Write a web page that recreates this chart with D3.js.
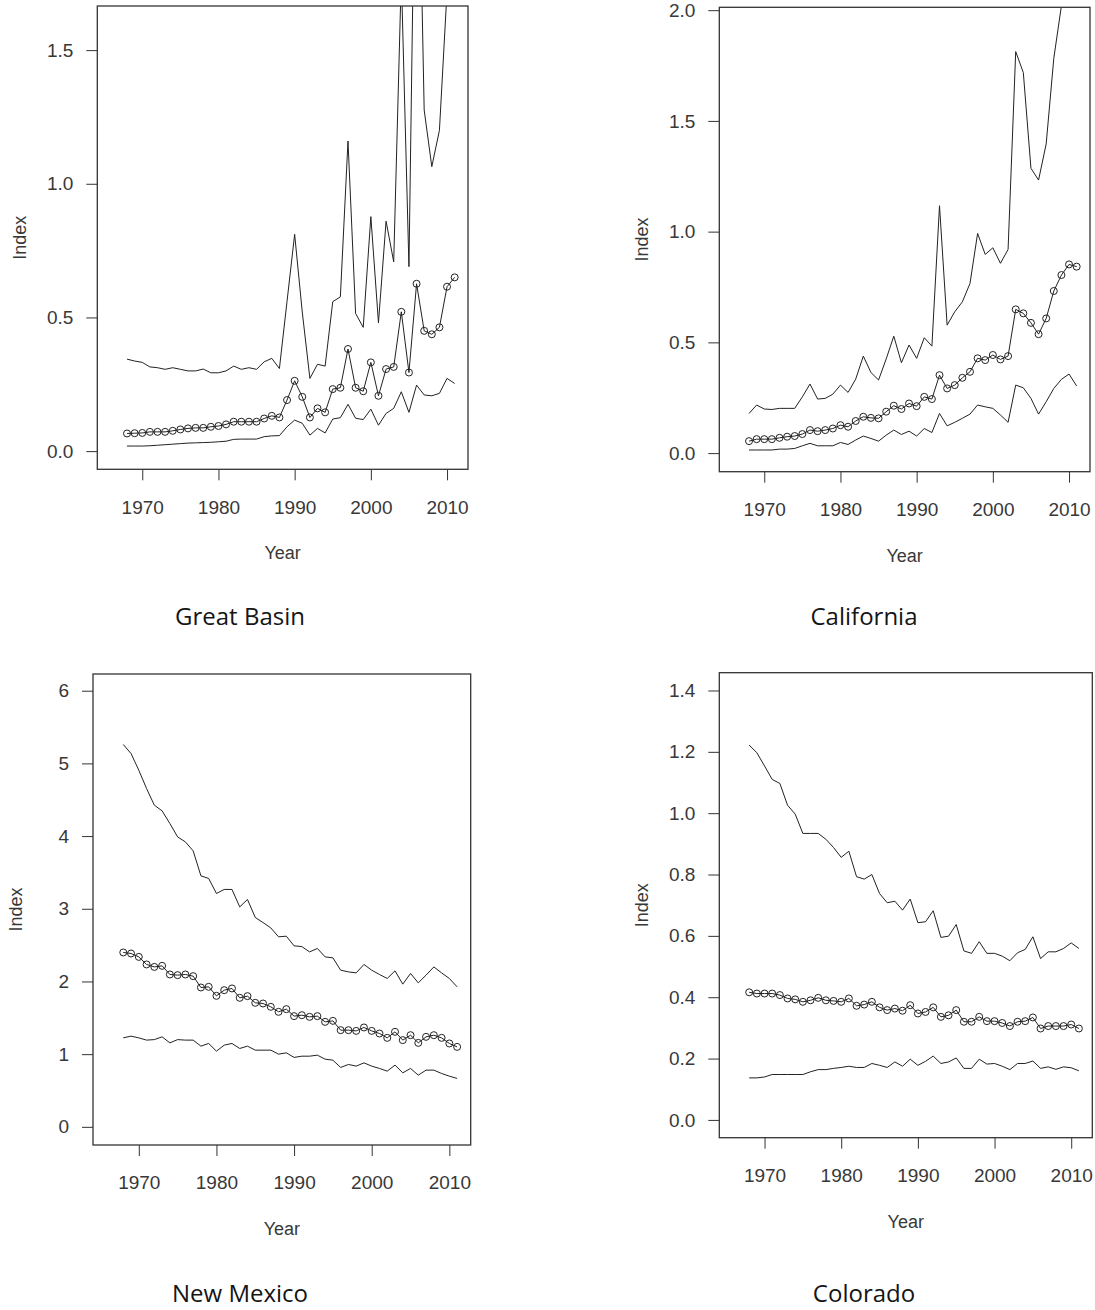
<!DOCTYPE html>
<html>
<head>
<meta charset="utf-8">
<script src="https://cdn.jsdelivr.net/npm/d3@7/dist/d3.min.js"></script>
<style>
    body { margin: 0; background: #fff; }
    svg { display: block; }
    .tick-label { font-family: "Liberation Sans", Arial, sans-serif; font-size: 19px; fill: #383838; }
    .axis-title { font-family: "Liberation Sans", Arial, sans-serif; font-size: 18px; fill: #383838; }
    .panel-title { font-family: "Open Sans", "Noto Sans", sans-serif; font-size: 24px; fill: #151515; }
</style>
</head>
<body>
<div class="chart"></div>
<script>
/*global d3*/

const years = [1968, 1969, 1970, 1971, 1972, 1973, 1974, 1975, 1976, 1977,
               1978, 1979, 1980, 1981, 1982, 1983, 1984, 1985, 1986, 1987,
               1988, 1989, 1990, 1991, 1992, 1993, 1994, 1995, 1996, 1997,
               1998, 1999, 2000, 2001, 2002, 2003, 2004, 2005, 2006, 2007,
               2008, 2009, 2010, 2011];

const xTicks = [1970, 1980, 1990, 2000, 2010];

// Great Basin
const gbUpper = [0.344, 0.337, 0.332, 0.315, 0.312, 0.306, 0.312, 0.306, 0.300, 0.300,
                 0.307, 0.293, 0.293, 0.300, 0.318, 0.306, 0.312, 0.306, 0.334, 0.347,
                 0.309, 0.56, 0.811, 0.52, 0.272, 0.325, 0.318, 0.559, 0.577, 1.16,
                 0.515, 0.463, 0.877, 0.48, 0.86, 0.708, 1.78, 0.69, 2.7, 1.276,
                 1.064, 1.20, 1.72, 1.9];
const gbMid = [0.066, 0.067, 0.068, 0.072, 0.072, 0.072, 0.076, 0.081, 0.085, 0.087,
               0.087, 0.091, 0.094, 0.100, 0.110, 0.110, 0.110, 0.110, 0.122, 0.132,
               0.126, 0.191, 0.263, 0.203, 0.126, 0.160, 0.145, 0.232, 0.237, 0.382,
               0.237, 0.224, 0.332, 0.207, 0.307, 0.315, 0.521, 0.294, 0.626, 0.450,
               0.437, 0.463, 0.615, 0.650];
const gbLower = [0.019, 0.019, 0.019, 0.020, 0.022, 0.024, 0.026, 0.028, 0.030, 0.031,
                 0.032, 0.033, 0.035, 0.037, 0.044, 0.045, 0.045, 0.045, 0.054, 0.057,
                 0.058, 0.091, 0.116, 0.104, 0.060, 0.085, 0.068, 0.120, 0.125, 0.175,
                 0.123, 0.118, 0.157, 0.097, 0.141, 0.160, 0.222, 0.145, 0.247, 0.210,
                 0.207, 0.216, 0.272, 0.253];
const gbTicks = [0, 0.5, 1.0, 1.5];

// California
const caUpper = [0.179, 0.217, 0.199, 0.197, 0.202, 0.202, 0.202, 0.254, 0.312, 0.244,
                 0.247, 0.266, 0.307, 0.274, 0.334, 0.438, 0.364, 0.330, 0.425, 0.528,
                 0.408, 0.488, 0.428, 0.521, 0.483, 1.117, 0.578, 0.638, 0.683, 0.766,
                 0.992, 0.897, 0.927, 0.857, 0.920, 1.813, 1.718, 1.286, 1.233, 1.396,
                 1.783, 2.02, 2.25, 2.15];
const caMid = [0.054, 0.063, 0.063, 0.063, 0.069, 0.074, 0.077, 0.086, 0.104, 0.099,
               0.104, 0.111, 0.126, 0.119, 0.145, 0.164, 0.159, 0.157, 0.187, 0.214,
               0.199, 0.224, 0.212, 0.254, 0.244, 0.352, 0.292, 0.307, 0.340, 0.367,
               0.428, 0.420, 0.443, 0.423, 0.438, 0.649, 0.631, 0.588, 0.537, 0.608,
               0.732, 0.804, 0.852, 0.842];
const caLower = [0.014, 0.014, 0.014, 0.014, 0.018, 0.018, 0.021, 0.033, 0.044, 0.033,
                 0.033, 0.033, 0.048, 0.039, 0.059, 0.077, 0.066, 0.054, 0.081, 0.104,
                 0.084, 0.099, 0.077, 0.111, 0.093, 0.179, 0.123, 0.139, 0.157, 0.176,
                 0.217, 0.209, 0.202, 0.172, 0.139, 0.307, 0.295, 0.247, 0.176, 0.232,
                 0.292, 0.333, 0.357, 0.303];
const caTicks = [0, 0.5, 1.0, 1.5, 2.0];

// New Mexico
const nmUpper = [5.26, 5.136, 4.906, 4.654, 4.425, 4.347, 4.173, 3.989, 3.92, 3.797,
                 3.453, 3.417, 3.21, 3.266, 3.266, 3.026, 3.128, 2.88, 2.81, 2.737,
                 2.614, 2.623, 2.49, 2.48, 2.407, 2.454, 2.338, 2.325, 2.155, 2.132,
                 2.118, 2.234, 2.155, 2.096, 2.041, 2.146, 1.963, 2.11, 1.981, 2.087,
                 2.2, 2.118, 2.041, 1.926];
const nmMid = [2.399, 2.385, 2.338, 2.234, 2.2, 2.215, 2.096, 2.087, 2.096, 2.073,
               1.917, 1.926, 1.802, 1.88, 1.904, 1.775, 1.798, 1.706, 1.697, 1.651,
               1.582, 1.619, 1.523, 1.536, 1.513, 1.523, 1.444, 1.458, 1.33, 1.33,
               1.32, 1.367, 1.32, 1.284, 1.224, 1.307, 1.193, 1.261, 1.155, 1.238,
               1.261, 1.224, 1.147, 1.1];
const nmLower = [1.224, 1.248, 1.224, 1.193, 1.2, 1.238, 1.155, 1.2, 1.193, 1.193,
                 1.11, 1.147, 1.041, 1.124, 1.147, 1.078, 1.11, 1.055, 1.055, 1.055,
                 1.0, 1.018, 0.955, 0.972, 0.972, 0.986, 0.931, 0.917, 0.817, 0.858,
                 0.835, 0.88, 0.835, 0.803, 0.766, 0.849, 0.743, 0.803, 0.711, 0.78,
                 0.78, 0.734, 0.697, 0.666];
const nmTicks = [0, 1, 2, 3, 4, 5, 6];

// Colorado
const coUpper = [1.222, 1.197, 1.154, 1.11, 1.097, 1.026, 0.997, 0.934, 0.934, 0.934,
                 0.915, 0.888, 0.856, 0.876, 0.793, 0.785, 0.8, 0.738, 0.708, 0.713,
                 0.684, 0.72, 0.643, 0.646, 0.682, 0.595, 0.599, 0.637, 0.551, 0.543,
                 0.581, 0.543, 0.543, 0.534, 0.519, 0.545, 0.556, 0.597, 0.526, 0.548,
                 0.548, 0.559, 0.577, 0.559];
const coMid = [0.416, 0.412, 0.412, 0.412, 0.407, 0.396, 0.393, 0.385, 0.39, 0.398,
               0.39, 0.388, 0.385, 0.396, 0.372, 0.376, 0.385, 0.367, 0.358, 0.363,
               0.356, 0.374, 0.347, 0.352, 0.367, 0.336, 0.341, 0.358, 0.32, 0.32,
               0.336, 0.322, 0.322, 0.316, 0.306, 0.32, 0.322, 0.334, 0.298, 0.306,
               0.306, 0.306, 0.311, 0.298];
const coLower = [0.137, 0.137, 0.14, 0.148, 0.148, 0.148, 0.148, 0.148, 0.157, 0.164,
                 0.164, 0.168, 0.171, 0.175, 0.171, 0.171, 0.184, 0.178, 0.171, 0.189,
                 0.175, 0.198, 0.178, 0.191, 0.208, 0.184, 0.189, 0.202, 0.168, 0.168,
                 0.198, 0.182, 0.184, 0.175, 0.164, 0.184, 0.184, 0.192, 0.168, 0.173,
                 0.165, 0.173, 0.17, 0.16];
const coTicks = [0, 0.2, 0.4, 0.6, 0.8, 1.0, 1.2, 1.4];

const titles = ["Great Basin", "California", "New Mexico", "Colorado"];

// page layout of the four plot boxes (left, top, right, bottom) and their y ranges
const panels = [
    {title: titles[0], upper: gbUpper, mid: gbMid, lower: gbLower, ticks: gbTicks, fmt: ".1f",
     yDomain: [-0.068, 1.665], box: [97.3, 6, 468, 469.3], titleX: 240, titleY: 625},
    {title: titles[1], upper: caUpper, mid: caMid, lower: caLower, ticks: caTicks, fmt: ".1f",
     yDomain: [-0.084, 2.013], box: [719.3, 7.3, 1090, 471.7], titleX: 864, titleY: 625},
    {title: titles[2], upper: nmUpper, mid: nmMid, lower: nmLower, ticks: nmTicks, fmt: "d",
     yDomain: [-0.25, 6.23], box: [93, 674, 470.7, 1145], titleX: 240, titleY: 1301.7},
    {title: titles[3], upper: coUpper, mid: coMid, lower: coLower, ticks: coTicks, fmt: ".1f",
     yDomain: [-0.058, 1.458], box: [719.3, 672.7, 1092.3, 1137.7], titleX: 864, titleY: 1301.7}
];

const width = 1095,
      height = 1310,
      ink = "#222";

const svg = d3.select(".chart").append("svg")
    .attr("width", width)
    .attr("height", height);

const drawPanel = (p, i) => {
    const [left, top, right, bottom] = p.box;

    const x = d3.scaleLinear()
        .domain([1964.1, 2012.75])
        .range([left, right]);

    const y = d3.scaleLinear()
        .domain(p.yDomain)
        .range([bottom, top]);

    const g = svg.append("g")
        .attr("class", "panel");

    g.append("clipPath")
        .attr("id", "clip" + i)
        .append("rect")
        .attr("x", left)
        .attr("y", top)
        .attr("width", right - left)
        .attr("height", bottom - top);

    const line = d3.line()
        .x((d, j) => x(years[j]))
        .y(d => y(d));

    const plot = g.append("g")
        .attr("clip-path", "url(#clip" + i + ")");

    [p.upper, p.mid, p.lower].forEach(series => {
        plot.append("path")
            .attr("d", line(series))
            .attr("fill", "none")
            .attr("stroke", ink)
            .attr("stroke-width", 1);
    });

    plot.selectAll("circle")
        .data(p.mid)
        .enter().append("circle")
        .attr("cx", (d, j) => x(years[j]))
        .attr("cy", d => y(d))
        .attr("r", 3.5)
        .attr("fill", "none")
        .attr("stroke", ink)
        .attr("stroke-width", 1);

    // y axis: R style ticks outside the box
    const yAxis = d3.axisLeft(y)
        .tickValues(p.ticks)
        .tickSize(11)
        .tickPadding(13)
        .tickFormat(d3.format(p.fmt));

    g.append("g")
        .attr("transform", "translate(" + left + ",0)")
        .call(yAxis)
        .call(a => a.select(".domain").remove())
        .call(a => a.selectAll(".tick line").attr("stroke", "#333"))
        .call(a => a.selectAll(".tick text")
              .attr("class", "tick-label")
              .attr("font-family", null)
              .attr("font-size", null)
              .attr("fill", null));

    const xAxis = d3.axisBottom(x)
        .tickValues(xTicks)
        .tickSize(11)
        .tickPadding(20)
        .tickFormat(d3.format("d"));

    g.append("g")
        .attr("transform", "translate(0," + bottom + ")")
        .call(xAxis)
        .call(a => a.select(".domain").remove())
        .call(a => a.selectAll(".tick line").attr("stroke", "#333"))
        .call(a => a.selectAll(".tick text")
              .attr("class", "tick-label")
              .attr("font-family", null)
              .attr("font-size", null)
              .attr("fill", null));

    g.append("rect")
        .attr("x", left)
        .attr("y", top)
        .attr("width", right - left)
        .attr("height", bottom - top)
        .attr("fill", "none")
        .attr("stroke", "#333")
        .attr("stroke-width", 1.3);

    g.append("text")
        .attr("class", "axis-title")
        .attr("text-anchor", "middle")
        .attr("x", (left + right) / 2)
        .attr("y", bottom + 90)
        .text("Year");

    g.append("text")
        .attr("class", "axis-title")
        .attr("text-anchor", "middle")
        .attr("transform", "translate(" + (left - 71) + "," + ((top + bottom) / 2) + ") rotate(-90)")
        .text("Index");

    g.append("text")
        .attr("class", "panel-title")
        .attr("text-anchor", "middle")
        .attr("x", p.titleX)
        .attr("y", p.titleY)
        .text(p.title);
};

panels.forEach(drawPanel);
</script>
</body>
</html>
